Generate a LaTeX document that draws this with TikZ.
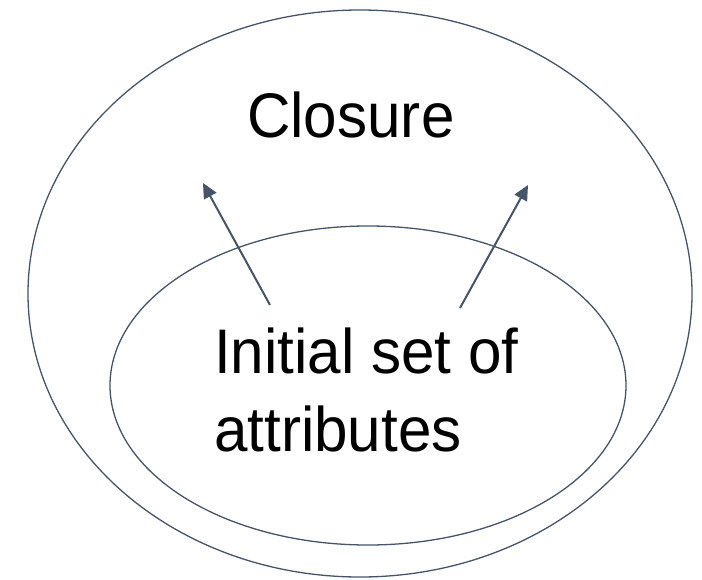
\documentclass[tikz,border=0pt]{standalone}
\usepackage{fontspec}
\usepackage{tikz}
\usetikzlibrary{arrows.meta,shapes.geometric}
\newfontfamily\lblfont{Liberation Sans}
\definecolor{slate}{HTML}{44546A}

\begin{document}
\begin{tikzpicture}[x=1pt,y=-1pt]
    \tikzstyle{setline} = [ellipse, draw=slate, line width=1.3pt, inner sep=0pt]
    \tikzstyle{label} = [font=\lblfont\fontsize{63}{78}\selectfont, xscale=0.955, transform shape, inner sep=0pt]
    \tikzstyle{arrow} = [draw=slate, line width=2pt, -{Triangle[length=15pt,width=14pt]}]

\useasboundingbox (0,0) rectangle (702,579);

\node (closure) [setline, minimum width=664pt, minimum height=567pt] at (360,293.5) {};
\node (initial) [setline, minimum width=516pt, minimum height=319pt] at (368,385.5) {};

\node (closurelabel) [label, anchor=base west] at (247,137) {Closure};
\node (initiallabel) [label, align=left, anchor=base west] at (214,451) {Initial set of\\attributes};

% arrows grow outward from the inner set
\coordinate (leftfoot) at (270,305);
\coordinate (lefttip) at (203,183);
\coordinate (rightfoot) at (460,308);
\coordinate (righttip) at (528,185);

\draw [arrow] (leftfoot) -- (lefttip);
\draw [arrow] (rightfoot) -- (righttip);

\end{tikzpicture}
\end{document}
